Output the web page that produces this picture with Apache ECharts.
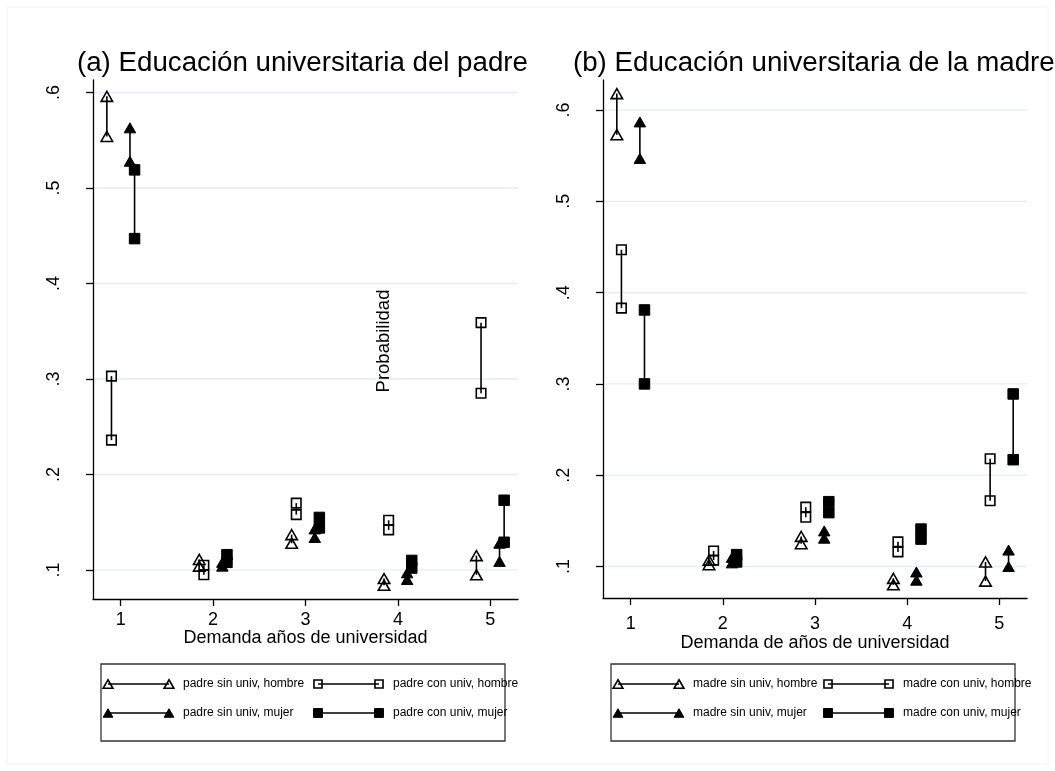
<!DOCTYPE html>
<html>
<head>
<meta charset="utf-8">
<script src="https://cdn.jsdelivr.net/npm/echarts@6/dist/echarts.min.js"></script>
<style>
  html, body { margin: 0; padding: 0; background: #ffffff; }
  #chart { width: 1055px; height: 771px; }
</style>
</head>
<body>
<div id="chart"></div>
<script>
// Demanded years of university (x) and predicted probability (y), low/high pair per group.
const categories = [1, 2, 3, 4, 5];
const groupOffsets = [-0.15, -0.1, 0.1, 0.15];
const yTicks = [0.1, 0.2, 0.3, 0.4, 0.5, 0.6];

const panelTitles = ['(a) Educación universitaria del padre', '(b) Educación universitaria de la madre'];
const xAxisTitles = ['Demanda años de universidad', 'Demanda de años de universidad'];
const yAxisTitle = 'Probabilidad';

const padreLabels = ['padre sin univ, hombre', 'padre con univ, hombre', 'padre sin univ, mujer', 'padre con univ, mujer'];
const madreLabels = ['madre sin univ, hombre', 'madre con univ, hombre', 'madre sin univ, mujer', 'madre con univ, mujer'];

// Panel (a): father's education — [low, high] for categories 1..5
const padreSinHombre = [[0.554, 0.596], [0.104, 0.111], [0.128, 0.137], [0.084, 0.091], [0.095, 0.115]];
const padreConHombre = [[0.236, 0.303], [0.095, 0.105], [0.158, 0.170], [0.142, 0.152], [0.285, 0.359]];
const padreSinMujer  = [[0.528, 0.563], [0.104, 0.108], [0.134, 0.143], [0.090, 0.097], [0.109, 0.128]];
const padreConMujer  = [[0.447, 0.519], [0.108, 0.116], [0.144, 0.155], [0.102, 0.110], [0.129, 0.173]];

// Panel (b): mother's education — [low, high] for categories 1..5
const madreSinHombre = [[0.573, 0.618], [0.102, 0.107], [0.125, 0.133], [0.080, 0.087], [0.084, 0.105]];
const madreConHombre = [[0.383, 0.447], [0.107, 0.117], [0.154, 0.165], [0.116, 0.127], [0.172, 0.218]];
const madreSinMujer  = [[0.547, 0.587], [0.104, 0.110], [0.131, 0.139], [0.085, 0.094], [0.100, 0.118]];
const madreConMujer  = [[0.300, 0.381], [0.105, 0.113], [0.159, 0.171], [0.130, 0.141], [0.217, 0.289]];

const FONT = 'Liberation Sans, Arial, sans-serif';
const INK = '#000000';
// marker style per group: triangle/square, hollow/filled
const groupMarkers = [
  { shape: 'triangle', filled: false },
  { shape: 'square', filled: false },
  { shape: 'triangle', filled: true },
  { shape: 'square', filled: true }
];

function markerShape(kind, cx, cy, scale) {
  const s = scale || 1;
  if (kind.shape === 'triangle') {
    const w = 11.5 * s, h = 10 * s;
    return {
      type: 'polygon',
      shape: { points: [[cx, cy - h / 2], [cx + w / 2, cy + h / 2], [cx - w / 2, cy + h / 2]] },
      style: kind.filled ? { fill: INK, stroke: INK, lineWidth: 1 }
                         : { fill: null, stroke: INK, lineWidth: 1.6 }
    };
  }
  const a = (kind.filled ? 10.5 : 9.5) * s;
  return {
    type: 'rect',
    shape: { x: cx - a / 2, y: cy - a / 2, width: a, height: a },
    style: kind.filled ? { fill: INK, stroke: INK, lineWidth: 1 }
                       : { fill: null, stroke: INK, lineWidth: 1.6 }
  };
}

function makeSpikeSeries(pairs, gIdx, axisIdx) {
  const kind = groupMarkers[gIdx];
  return {
    type: 'custom',
    xAxisIndex: axisIdx,
    yAxisIndex: axisIdx,
    silent: true,
    clip: false,
    encode: { x: 0, y: [1, 2] },
    data: pairs.map((p, i) => [categories[i] + groupOffsets[gIdx], p[0], p[1]]),
    renderItem: function (params, api) {
      const x = api.value(0);
      const lo = api.coord([x, api.value(1)]);
      const hi = api.coord([x, api.value(2)]);
      return {
        type: 'group',
        children: [
          { type: 'line', shape: { x1: lo[0], y1: lo[1], x2: hi[0], y2: hi[1] },
            style: { stroke: INK, lineWidth: 1.6 } },
          markerShape(kind, lo[0], lo[1]),
          markerShape(kind, hi[0], hi[1])
        ]
      };
    }
  };
}

function gridLineSeries(axisIdx, xmin, xmax) {
  return {
    type: 'custom',
    xAxisIndex: axisIdx,
    yAxisIndex: axisIdx,
    silent: true,
    z: 0,
    data: yTicks.map(v => [v]),
    encode: { y: 0 },
    renderItem: function (params, api) {
      const v = api.value(0);
      const a = api.coord([xmin, v]);
      const b = api.coord([xmax, v]);
      return { type: 'line', shape: { x1: a[0], y1: a[1], x2: b[0], y2: b[1] },
               style: { stroke: '#e4eef1', lineWidth: 1.3 } };
    }
  };
}

const X_MIN = 0.7, X_MAX = 5.3;

function xAxisOpt(gi, title, labelMargin, nameGap) {
  return {
    type: 'value', gridIndex: gi, min: X_MIN, max: X_MAX,
    name: title, nameLocation: 'middle', nameGap: nameGap, nameMoveOverlap: false,
    nameTextStyle: { fontFamily: FONT, fontSize: 18, color: INK },
    axisLine: { show: true, onZero: false, lineStyle: { color: INK, width: 1.3 } },
    axisTick: { show: true, length: 7, lineStyle: { color: INK, width: 1.3 }, customValues: categories },
    axisLabel: { fontFamily: FONT, fontSize: 18, color: INK, margin: labelMargin, customValues: categories,
                 formatter: v => String(v) },
    splitLine: { show: false }
  };
}

function yAxisOpt(gi, min, max) {
  return {
    type: 'value', gridIndex: gi, min: min, max: max,
    axisLine: { show: true, onZero: false, lineStyle: { color: INK, width: 1.3 } },
    axisTick: { show: true, length: 7, lineStyle: { color: INK, width: 1.3 }, customValues: yTicks },
    axisLabel: { fontFamily: FONT, fontSize: 18, color: INK, margin: 30, rotate: 90,
                 customValues: yTicks, formatter: v => v.toFixed(1).replace(/^0/, '') },
    splitLine: { show: false }
  };
}

function legendGraphic(labels, left) {
  const els = [];
  els.push({ type: 'rect', shape: { x: left, y: 664, width: 404, height: 77 },
             style: { fill: '#ffffff', stroke: '#333333', lineWidth: 1.3 }, z: 10 });
  const cols = [0, 210];
  const rows = [684, 713];
  for (let g = 0; g < 4; g++) {
    const cx = left + 7 + cols[g % 2];
    const cy = rows[Math.floor(g / 2)];
    els.push({ type: 'line', shape: { x1: cx, y1: cy, x2: cx + 61, y2: cy },
               style: { stroke: INK, lineWidth: 1.5 }, z: 11 });
    const m1 = markerShape(groupMarkers[g], cx, cy, 0.85); m1.z = 12;
    const m2 = markerShape(groupMarkers[g], cx + 61, cy, 0.85); m2.z = 12;
    els.push(m1, m2);
    els.push({ type: 'text', x: cx + 75, y: cy, z: 12,
               style: { text: labels[g], font: '12px ' + FONT, fill: INK, verticalAlign: 'middle' } });
  }
  return els;
}

const chart = echarts.init(document.getElementById('chart'), null, { renderer: 'canvas' });

const option = {
  backgroundColor: '#ffffff',
  animation: false,
  title: [
    { text: panelTitles[0], left: 72, top: 44,
      textStyle: { fontFamily: FONT, fontSize: 27.7, fontWeight: 'normal', color: INK } },
    { text: panelTitles[1], left: 568, top: 44,
      textStyle: { fontFamily: FONT, fontSize: 27.7, fontWeight: 'normal', color: INK } }
  ],
  grid: [
    { left: 93, top: 80, width: 425, height: 519 },
    { left: 603, top: 80, width: 424, height: 518 }
  ],
  xAxis: [xAxisOpt(0, xAxisTitles[0], 12, 30), xAxisOpt(1, xAxisTitles[1], 17, 36)],
  yAxis: [yAxisOpt(0, 0.0696, 0.6131), yAxisOpt(1, 0.0655, 0.6329)],
  series: [
    gridLineSeries(0, X_MIN, X_MAX),
    gridLineSeries(1, X_MIN, X_MAX),
    makeSpikeSeries(padreSinHombre, 0, 0),
    makeSpikeSeries(padreConHombre, 1, 0),
    makeSpikeSeries(padreSinMujer, 2, 0),
    makeSpikeSeries(padreConMujer, 3, 0),
    makeSpikeSeries(madreSinHombre, 0, 1),
    makeSpikeSeries(madreConHombre, 1, 1),
    makeSpikeSeries(madreSinMujer, 2, 1),
    makeSpikeSeries(madreConMujer, 3, 1)
  ],
  graphic: [
    { type: 'rect', shape: { x: 7, y: 7, width: 1041, height: 757 },
      style: { fill: null, stroke: '#eef2f4', lineWidth: 1 }, z: 0, silent: true },
    { type: 'text', x: 384, y: 341, rotation: Math.PI / 2, z: 5,
      style: { text: yAxisTitle, font: '18.5px ' + FONT, fill: INK, align: 'center', verticalAlign: 'middle' } }
  ].concat(legendGraphic(padreLabels, 101), legendGraphic(madreLabels, 611))
};

chart.setOption(option);
</script>
</body>
</html>
